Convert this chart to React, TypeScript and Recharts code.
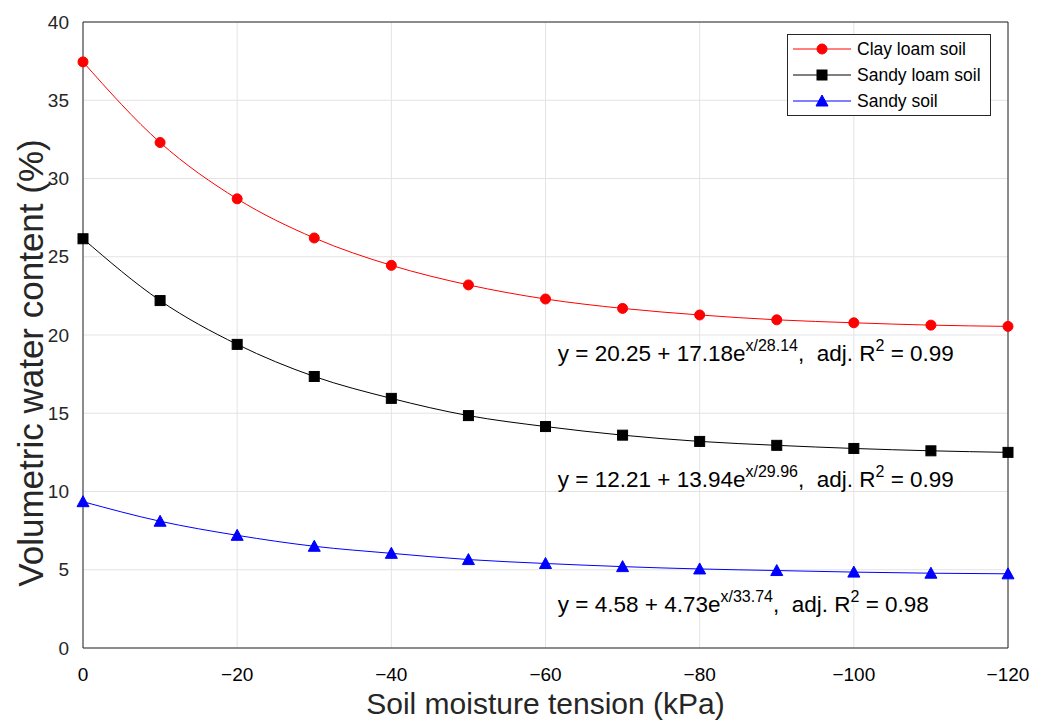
import {
  LineChart,
  Line,
  XAxis,
  YAxis,
  CartesianGrid,
  ReferenceLine,
  ReferenceDot,
} from 'recharts';

const tension = [0, -10, -20, -30, -40, -50, -60, -70, -80, -90, -100, -110, -120];
const clayLoam = [37.45, 32.3, 28.7, 26.2, 24.45, 23.2, 22.3, 21.7, 21.28, 20.97, 20.78, 20.63, 20.55];
const sandyLoam = [26.15, 22.2, 19.4, 17.35, 15.95, 14.85, 14.15, 13.6, 13.2, 12.95, 12.75, 12.6, 12.5];
const sandy = [9.35, 8.1, 7.2, 6.5, 6.05, 5.65, 5.4, 5.2, 5.05, 4.95, 4.85, 4.78, 4.74];

const xTicks = [0, -20, -40, -60, -80, -100, -120];
const yTicks = [0, 5, 10, 15, 20, 25, 30, 35, 40];

const fitA = ['20.25', '12.21', '4.58'];
const fitB = ['17.18', '13.94', '4.73'];
const fitC = ['28.14', '29.96', '33.74'];
const fitR2 = ['0.99', '0.99', '0.98'];
// where each equation sits, in data units
const eqX = [-61.6, -61.6, -61.6];
const eqY = [18.85, 10.8, 2.8];

const data = tension.map((t, i) => ({
  t,
  clay: clayLoam[i],
  sandyLoam: sandyLoam[i],
  sandy: sandy[i],
}));

const FONT = '"Liberation Sans", Arial, Helvetica, sans-serif';
const AXIS = '#262626';

const series = [
  { key: 'clay', name: 'Clay loam soil', color: '#ff0000', shape: 'circle' },
  { key: 'sandyLoam', name: 'Sandy loam soil', color: '#000000', shape: 'square' },
  { key: 'sandy', name: 'Sandy soil', color: '#0000ff', shape: 'triangle' },
];

function Marker({ shape, cx, cy, color }: any) {
  if (shape === 'circle') return <circle cx={cx} cy={cy} r={5} fill={color} stroke={color} />;
  if (shape === 'square')
    return <rect x={cx - 5} y={cy - 5} width={10} height={10} fill={color} stroke={color} />;
  return (
    <polygon
      points={`${cx},${cy - 6} ${cx - 6},${cy + 5} ${cx + 6},${cy + 5}`}
      fill={color}
      stroke={color}
    />
  );
}

function LegendBox() {
  return (
    <div
      style={{
        position: 'absolute',
        top: 34,
        left: 787,
        boxSizing: 'border-box',
        width: 204,
        border: '1px solid #262626',
        background: '#fff',
        padding: '1px 4px 1px 3px',
        fontFamily: FONT,
        fontSize: 17.5,
        color: '#000',
        whiteSpace: 'nowrap',
      }}
    >
      {series.map((s) => (
        <div key={s.key} style={{ display: 'flex', alignItems: 'center', height: 26 }}>
          <svg width={62} height={20} style={{ marginRight: 4, flexShrink: 0 }}>
            <line x1={2} y1={10} x2={60} y2={10} stroke={s.color} strokeWidth={1} />
            <Marker shape={s.shape} cx={31} cy={10} color={s.color} />
          </svg>
          <span>{s.name}</span>
        </div>
      ))}
    </div>
  );
}

function EqLabel({ viewBox, i }: any) {
  const x = viewBox?.x ?? 0;
  const y = viewBox?.y ?? 0;
  return (
    <text x={x} y={y + 8} fontFamily={FONT} fontSize={22.5} fill="#000" style={{ whiteSpace: 'pre' }}>
      <tspan>{`y = ${fitA[i]} + ${fitB[i]}e`}</tspan>
      <tspan dy={-10} fontSize={16}>{`x/${fitC[i]}`}</tspan>
      <tspan dy={10}>{',  adj. R'}</tspan>
      <tspan dy={-10} fontSize={16}>2</tspan>
      <tspan dy={10}>{' = ' + fitR2[i]}</tspan>
    </text>
  );
}

function YLabel({ viewBox }: any) {
  const cx = 30;
  const cy = (viewBox?.y ?? 0) + (viewBox?.height ?? 0) / 2 + 28;
  return (
    <text
      x={cx}
      y={cy}
      transform={`rotate(-90 ${cx} ${cy})`}
      textAnchor="middle"
      dominantBaseline="central"
      fontFamily={FONT}
      fontSize={35}
      fill={AXIS}
    >
      Volumetric water content (%)
    </text>
  );
}

const fmt = (v: number) => String(v).replace('-', '\u2212');

export default function App() {
  return (
    <div style={{ position: 'absolute', left: 0, top: 0, width: 1040, height: 720, background: '#fff' }}>
      <LineChart
        width={1040}
        height={720}
        data={data}
        margin={{ top: 22, right: 32, bottom: 0, left: 0 }}
      >
        <CartesianGrid stroke="#e3e3e3" strokeWidth={1} />
        <XAxis
          dataKey="t"
          type="number"
          domain={[-120, 0]}
          reversed
          ticks={xTicks}
          tickFormatter={fmt}
          height={72}
          stroke={AXIS}
          tickLine={false}
          tickMargin={14}
          tick={{ fill: '#000', fontSize: 19, fontFamily: FONT }}
          label={{
            value: 'Soil moisture tension (kPa)',
            position: 'insideBottom',
            offset: 6,
            fill: AXIS,
            fontSize: 30,
            fontFamily: FONT,
          }}
        />
        <YAxis
          type="number"
          domain={[0, 40]}
          ticks={yTicks}
          width={83}
          stroke={AXIS}
          tickLine={false}
          tickMargin={8}
          tick={{ fill: AXIS, fontSize: 19, fontFamily: FONT }}
          label={(props: any) => <YLabel {...props} />}
        />
        <ReferenceLine y={40} stroke={AXIS} />
        <ReferenceLine x={-120} stroke={AXIS} />
        {series.map((s) => (
          <Line
            key={s.key}
            type="monotone"
            dataKey={s.key}
            name={s.name}
            stroke={s.color}
            strokeWidth={1}
            isAnimationActive={false}
            dot={(p: any) => (
              <Marker key={`${s.key}-${p.index}`} shape={s.shape} cx={p.cx} cy={p.cy} color={s.color} />
            )}
            activeDot={false}
          />
        ))}
        {eqX.map((x, i) => (
          <ReferenceDot
            key={`eq-${i}`}
            x={x}
            y={eqY[i]}
            r={0}
            fill="none"
            stroke="none"
            label={(props: any) => <EqLabel {...props} i={i} />}
          />
        ))}
      </LineChart>
      <LegendBox />
    </div>
  );
}
